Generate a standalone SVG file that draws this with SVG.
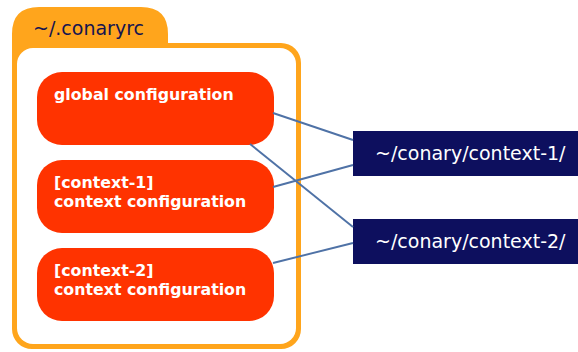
<svg xmlns="http://www.w3.org/2000/svg" width="578" height="352" viewBox="0 0 578 352">
<style>
.cfg{fill:#ff3300}
.dir{fill:#0d0f5e}
.lbl{font-family:"DejaVu Sans",Verdana,sans-serif;font-weight:bold;font-size:15.8px;fill:#ffffff}
.dtx{font-family:"DejaVu Sans",Verdana,sans-serif;font-size:19px;fill:#ffffff}
.ttl{font-family:"DejaVu Sans",Verdana,sans-serif;font-size:19px;fill:#141450}
.con{stroke:#4f72a6;stroke-width:1.9;fill:none}
</style>
<rect width="578" height="352" fill="#ffffff"/>
<g id="folder">
<path d="M12,34 Q12,7 39,7 H141 Q168,7 168,34 V43 H281 A20 20 0 0 1 301 63 V329 A20 20 0 0 1 281 349 H32 A20 20 0 0 1 12 329 Z" fill="#ffa51c"/>
<rect x="17" y="48" width="279" height="296" rx="16" fill="#ffffff"/>
<text class="ttl" x="33" y="35">~/.conaryrc</text>
</g>
<g id="global">
<rect class="cfg" x="37" y="72" width="237" height="73" rx="25"/>
<text class="lbl" x="54" y="100">global configuration</text>
</g>
<g id="context1">
<rect class="cfg" x="37" y="160" width="237" height="73" rx="25"/>
<text class="lbl" x="54" y="188">[context-1]</text>
<text class="lbl" x="54" y="207">context configuration</text>
</g>
<g id="context2">
<rect class="cfg" x="37" y="248" width="237" height="73" rx="25"/>
<text class="lbl" x="54" y="276">[context-2]</text>
<text class="lbl" x="54" y="295">context configuration</text>
</g>
<g id="dir1">
<rect class="dir" x="353" y="131" width="225" height="45"/>
<text class="dtx" x="375" y="160">~/conary/context-1/</text>
</g>
<g id="dir2">
<rect class="dir" x="353" y="219" width="225" height="45"/>
<text class="dtx" x="375" y="248">~/conary/context-2/</text>
</g>
<g id="connectors">
<line class="con" x1="273" y1="113" x2="353" y2="140"/>
<line class="con" x1="250" y1="144" x2="353" y2="227"/>
<line class="con" x1="273" y1="187" x2="353" y2="165"/>
<line class="con" x1="273" y1="263" x2="353" y2="243"/>
</g>
</svg>
